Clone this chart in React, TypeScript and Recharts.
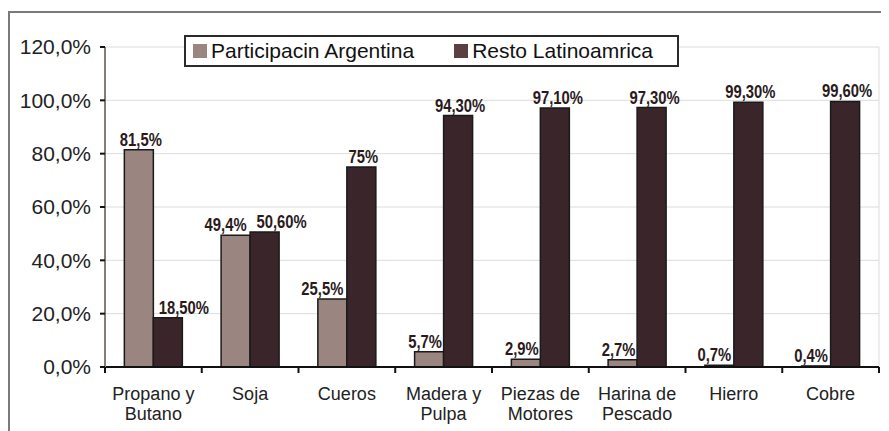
import { BarChart, Bar, XAxis, YAxis, CartesianGrid, LabelList } from "recharts";

const categories = [
  "Propano y\nButano",
  "Soja",
  "Cueros",
  "Madera y\nPulpa",
  "Piezas de\nMotores",
  "Harina de\nPescado",
  "Hierro",
  "Cobre",
];
const argentina = [81.5, 49.4, 25.5, 5.7, 2.9, 2.7, 0.7, 0.4];
const resto = [18.5, 50.6, 75, 94.3, 97.1, 97.3, 99.3, 99.6];
const argentinaLabels = ["81,5%", "49,4%", "25,5%", "5,7%", "2,9%", "2,7%", "0,7%", "0,4%"];
const restoLabels = ["18,50%", "50,60%", "75%", "94,30%", "97,10%", "97,30%", "99,30%", "99,60%"];
const yTicks = [0, 20, 40, 60, 80, 100, 120];

const ARG_COLOR = "#9a8580";
const RESTO_COLOR = "#3a262a";
const FONT = "'Liberation Sans', Arial, sans-serif";

// horizontal nudges of value labels, as placed in the original
const ARG_NUDGE = [2, -10, -10, -4, -4, -4, -5, -5];
const RESTO_NUDGE = [16, 17, 2, 2, 3, 3, 2, 2];

const data = categories.map((name, i) => ({
  name,
  argentina: argentina[i],
  resto: resto[i],
  argLabel: argentinaLabels[i],
  restoLabel: restoLabels[i],
}));

const CHART_W = 881;
const CHART_H = 423;
const MARGIN = { top: 39, right: 10, left: 0, bottom: 0 };
const Y_W = 97;
const X_H = 64;
const PLOT_W = CHART_W - MARGIN.right - MARGIN.left - Y_W;

const CategoryTick = (props: any) => {
  const { x, y, payload, index } = props;
  const band = PLOT_W / categories.length;
  const lines = String(payload.value).split("\n");
  return (
    <g>
      <line x1={x - band / 2} y1={y - 8} x2={x - band / 2} y2={y - 2} stroke="#111" strokeWidth={2} />
      {index === categories.length - 1 && (
        <line x1={x + band / 2} y1={y - 8} x2={x + band / 2} y2={y - 2} stroke="#111" strokeWidth={2} />
      )}
      <text x={x} y={y + 25} textAnchor="middle" fontFamily={FONT} fontSize={18} fill="#222">
        {lines.map((l, i) => (
          <tspan key={i} x={x} dy={i === 0 ? 0 : 20}>
            {l}
          </tspan>
        ))}
      </text>
    </g>
  );
};

// condensed bold value label above each bar
const makeValueLabel = (nudge: number[]) => (props: any) => {
  const { x, y, width, value, index } = props;
  const cx = x + width / 2 + (nudge[index] ?? 0);
  return (
    <text
      transform={`translate(${cx}, ${y - 4}) scale(0.8, 1)`}
      textAnchor="middle"
      fontFamily={FONT}
      fontSize={18.5}
      fontWeight="bold"
      fill="#2a1a1c"
    >
      {value}
    </text>
  );
};
const ArgLabel = makeValueLabel(ARG_NUDGE);
const RestoLabel = makeValueLabel(RESTO_NUDGE);

export default function App() {
  return (
    <div style={{ position: "relative", width: CHART_W, height: CHART_H, background: "#fff" }}>
      <div
        style={{
          position: "absolute",
          left: 0,
          top: 3,
          width: CHART_W,
          height: CHART_H - 3,
          borderTop: "2px solid #7a7a7a",
          borderLeft: "2px solid #7a7a7a",
          boxSizing: "border-box",
        }}
      />
      <BarChart
        width={CHART_W}
        height={CHART_H}
        data={data}
        margin={MARGIN}
        barCategoryGap="20%"
        barGap={0}
        style={{ position: "absolute", left: 0, top: 0 }}
      >
        <CartesianGrid
          vertical
          stroke="#dcdcdc"
          strokeWidth={1}
          verticalCoordinatesGenerator={({ offset }: any) => [offset.left + offset.width]}
        />
        <XAxis
          dataKey="name"
          height={X_H}
          interval={0}
          tickLine={false}
          axisLine={{ stroke: "#111", strokeWidth: 2 }}
          tick={<CategoryTick />}
        />
        <YAxis
          width={Y_W}
          domain={[0, 120]}
          ticks={yTicks}
          interval={0}
          tickFormatter={(v: number) => v.toFixed(1).replace(".", ",") + "%"}
          axisLine={{ stroke: "#8a7a78", strokeWidth: 2 }}
          tickLine={{ stroke: "#111", strokeWidth: 2 }}
          tickSize={5}
          tickMargin={9}
          tick={{ fontFamily: FONT, fontSize: 21, fill: "#222" }}
        />
        <Bar dataKey="argentina" fill={ARG_COLOR} stroke="#1a1a1a" strokeWidth={1.5} isAnimationActive={false}>
          <LabelList dataKey="argLabel" content={<ArgLabel />} />
        </Bar>
        <Bar dataKey="resto" fill={RESTO_COLOR} stroke="#1a1a1a" strokeWidth={1.5} isAnimationActive={false}>
          <LabelList dataKey="restoLabel" content={<RestoLabel />} />
        </Bar>
      </BarChart>
      <div
        style={{
          position: "absolute",
          left: 176,
          top: 27,
          width: 495,
          height: 32,
          border: "2px solid #2b2b2b",
          background: "#fff",
          display: "flex",
          alignItems: "center",
          fontFamily: FONT,
          fontSize: 21,
          color: "#111",
          boxSizing: "border-box",
          whiteSpace: "nowrap",
        }}
      >
        <span style={{ display: "inline-block", width: 14, height: 14, background: ARG_COLOR, marginLeft: 7, marginRight: 4 }} />
        <span>Participacin Argentina</span>
        <span style={{ display: "inline-block", width: 14, height: 14, background: "#5a4043", marginLeft: 40, marginRight: 4 }} />
        <span>Resto Latinoamrica</span>
      </div>
    </div>
  );
}
